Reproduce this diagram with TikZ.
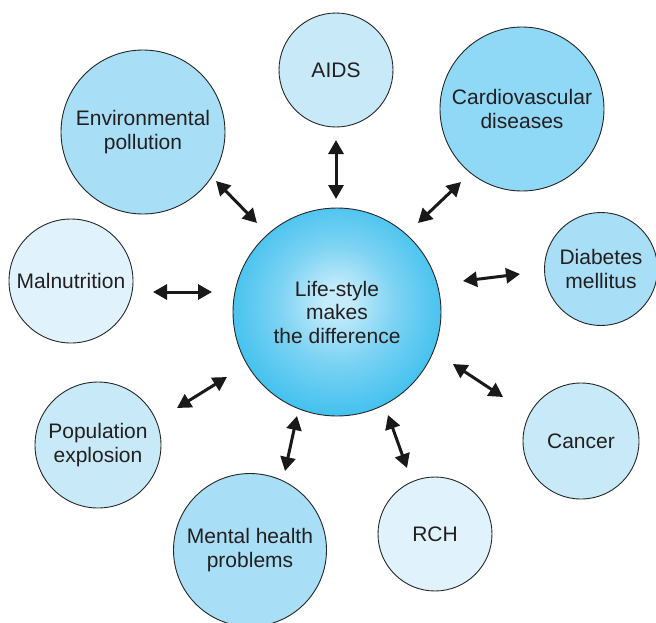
\documentclass[tikz,border=0pt]{standalone}
\usepackage{fontspec}
\setmainfont{Liberation Sans}
\usetikzlibrary{arrows.meta}
\definecolor{cdark}{HTML}{8FD8F6}
\definecolor{cmid}{HTML}{A8DEF6}
\definecolor{clight}{HTML}{C8E9F8}
\definecolor{cpale}{HTML}{E0F3FC}
\definecolor{cin}{HTML}{C6ECFB}
\definecolor{cmidhub}{HTML}{7DD3F3}
\definecolor{cout}{HTML}{3BBFEE}
\definecolor{txt}{HTML}{231F20}
\pgfdeclareradialshading{hubshade}{\pgfpoint{0bp}{3bp}}{color(0bp)=(cin); color(3bp)=(cin); color(14bp)=(cmidhub); color(28bp)=(cout); color(50bp)=(cout)}
\tikzset{
  topic/.style={circle, draw=black!85, line width=0.9pt, inner sep=0pt, align=center, text=txt,
    font=\fontsize{21}{23.5}\selectfont},
  link/.style={{Triangle[length=14pt,width=15pt]}-{Triangle[length=14pt,width=15pt]}, line width=3pt, black!90},
}
\begin{document}
\begin{tikzpicture}[x=1pt,y=-1pt]
\useasboundingbox (0,0) rectangle (656,622);
% hub
\node[topic, minimum size=208pt, shading=hubshade] (hub) at (337,312) {Life-style\\makes\\the difference};
% satellites
\node[topic, minimum size=114pt, fill=clight] (aids) at (336,70) {AIDS};
\node[topic, minimum size=164pt, fill=cdark] (cardio) at (522,109) {Cardiovascular\\diseases};
\node[topic, minimum size=164pt, fill=cmid] (env) at (143,132) {Environmental\\pollution};
\node[topic, minimum size=113pt, fill=cmid] (diab) at (601,269) {Diabetes\\mellitus};
\node[topic, minimum size=124pt, fill=cpale] (maln) at (71,281) {Malnutrition};
\node[topic, minimum size=126pt, fill=clight] (pop) at (98,445) {Population\\explosion};
\node[topic, minimum size=153pt, fill=cmid] (mental) at (250,550) {Mental health\\problems};
\node[topic, minimum size=114pt, fill=cpale] (rch) at (435,534) {RCH};
\node[topic, minimum size=116pt, fill=clight] (cancer) at (581,441) {Cancer};
% arrow end points
\coordinate (e1) at (216,181); \coordinate (e2) at (257,223);
\coordinate (a1) at (336,140); \coordinate (a2) at (336,199);
\coordinate (c1) at (461,182); \coordinate (c2) at (418,223);
\coordinate (m1) at (153,292); \coordinate (m2) at (212,292);
\coordinate (p1) at (177,408); \coordinate (p2) at (227,377);
\coordinate (d1) at (463,281); \coordinate (d2) at (520,274);
\coordinate (k1) at (453,364); \coordinate (k2) at (503,397);
\coordinate (h1) at (297,416); \coordinate (h2) at (285,471);
\coordinate (r1) at (388,415); \coordinate (r2) at (407,468);
\draw[link] (e1) -- (e2);
\draw[link] (a1) -- (a2);
\draw[link] (c1) -- (c2);
\draw[link] (m1) -- (m2);
\draw[link] (p1) -- (p2);
\draw[link] (d1) -- (d2);
\draw[link] (k1) -- (k2);
\draw[link] (h1) -- (h2);
\draw[link] (r1) -- (r2);
\end{tikzpicture}
\end{document}
